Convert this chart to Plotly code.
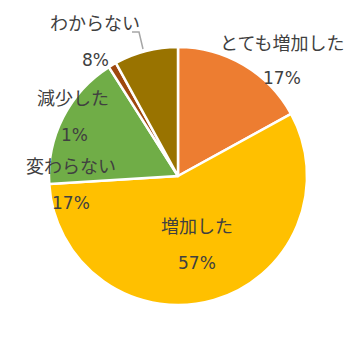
import plotly.graph_objects as go

categories = ["とても増加した", "増加した", "変わらない", "減少した", "わからない"]
values = [17, 57, 17, 1, 8]
colors = ["#ED7D31", "#FFC000", "#70AD47", "#9E480E", "#997300"]

W, H = 357, 352
cx, cy, r = 178, 176, 129

fig = go.Figure(go.Pie(
    labels=categories, values=values, sort=False, direction="clockwise", rotation=0,
    marker=dict(colors=colors, line=dict(color="white", width=2.5)),
    textinfo="none", hoverinfo="label+percent", showlegend=False,
    domain=dict(x=[(cx - r) / W, (cx + r) / W], y=[1 - (cy + r) / H, 1 - (cy - r) / H]),
))

# label positions (pixels) for each category: name and percent
label_pos = {
    "とても増加した": ((282, 42), (282, 78)),
    "増加した": ((197, 225), (197, 263)),
    "変わらない": ((71, 165), (71, 203)),
    "減少した": ((73, 97), (74, 135)),
    "わからない": ((95, 22), (95, 60)),
}
jp_font = dict(family="Noto Sans CJK JP", size=18, color="#404040")
num_font = dict(family="DejaVu Sans", size=17, color="#404040")
anns = []
for c, v in zip(categories, values):
    (nx, ny), (px, py) = label_pos[c]
    anns.append(dict(x=nx / W, y=1 - ny / H, xref="paper", yref="paper", text=c,
                     showarrow=False, font=jp_font, xanchor="center", yanchor="middle"))
    anns.append(dict(x=px / W, y=1 - py / H, xref="paper", yref="paper", text=f"{v}%",
                     showarrow=False, font=num_font, xanchor="center", yanchor="middle"))

def p(x, y):
    return f"{x / W},{1 - y / H}"

fig.update_layout(
    width=W, height=H, margin=dict(l=0, r=0, t=0, b=0),
    paper_bgcolor="white", plot_bgcolor="white",
    annotations=anns,
    shapes=[dict(type="path", xref="paper", yref="paper",
                 path=f"M{p(143, 49)} L{p(139, 32)} L{p(132, 32)}",
                 line=dict(color="#A6A6A6", width=1.5))],
)
fig.write_html("out.html")
